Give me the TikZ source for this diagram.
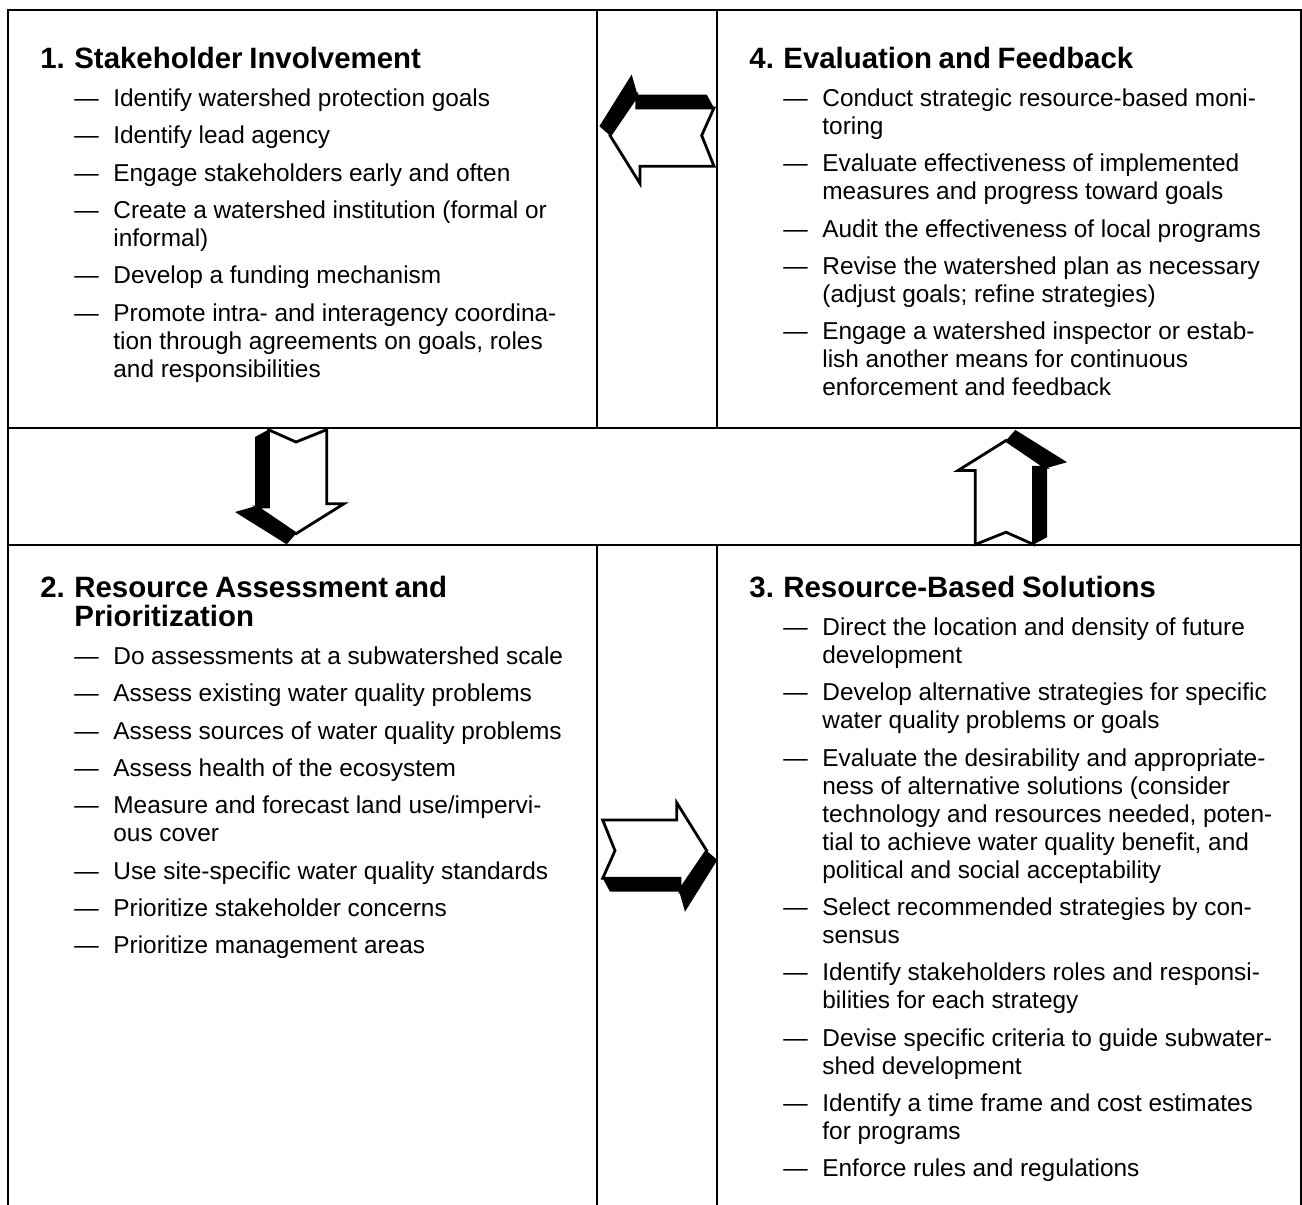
\documentclass[tikz,border=0pt]{standalone}
\usepackage{fontspec}
\setmainfont{Liberation Sans}
\usepackage{tikz}

\newcommand{\panelfmt}{\fontsize{12.2}{14}\selectfont\frenchspacing\raggedright\setlength{\parskip}{4.65pt}}
\newcommand{\hd}[2]{{\fontsize{14.7}{14.5}\selectfont\bfseries\hangindent=17pt\hangafter=1\makebox[17pt][l]{#1}#2\par}\vspace{0.6pt}\leftskip=17pt}
\newcommand{\itm}[1]{\par\hangindent=19.5pt\hangafter=1\makebox[19.5pt][l]{—}#1}

\begin{document}
\begin{tikzpicture}[x=0.5pt, y=-0.5pt,
    frame/.style={line width=0.7pt},
    panel/.style={anchor=base west, inner sep=0pt, text width=275pt, execute at begin node=\panelfmt},
    arrowface/.style={fill=white, draw=black, line width=1.4pt, line join=miter},
    arrowshade/.style={fill=black}]
  \useasboundingbox (0,0) rectangle (1302,1205);

  % Frame
  \draw[frame] (8,1205) -- (8,10) -- (1301,10) -- (1301,1205);
  \draw[frame] (8,428) -- (1301,428);
  \draw[frame] (8,545) -- (1301,545);
  \draw[frame] (597,10) -- (597,428) (717,10) -- (717,428);
  \draw[frame] (597,545) -- (597,1205) (717,545) -- (717,1205);

  % Block arrow macro
  \newcommand{\blockarrow}[3]{
    % #1, #2: centre, #3: rotation (0 = pointing right)
    \begin{scope}[shift={(#1,#2)}, rotate=#3]
      \fill[arrowshade] (-57.3,21.1) -- (-50,34.5) -- (19.3,34.5) -- (25,54.5)
        -- (57.3,2.8) -- (46.7,-6.5) -- (20,21.1) -- cycle;
      \draw[arrowface] (-57.3,-37.2) -- (16.7,-37.2) -- (16.7,-54.5) -- (46.7,-6.5)
        -- (20,32.8) -- (20,21.1) -- (-57.3,21.1) -- (-45,-6.5) -- cycle;
    \end{scope}
  }

  % Arrows between the steps
  \blockarrow{656.7}{129}{180}
  \blockarrow{289.5}{487}{-90}
  \blockarrow{1012.5}{487.2}{90}
  \blockarrow{660}{857.2}{0}

  % Step 1
  \node[panel] (involve) at (40,68) {\hd{1.}{Stakeholder Involvement}
    \itm{Identify watershed protection goals}
    \itm{Identify lead agency}
    \itm{Engage stakeholders early and often}
    \itm{Create a watershed institution (formal or\newline informal)}
    \itm{Develop a funding mechanism}
    \itm{Promote intra- and interagency coordina-\newline tion through agreements on goals, roles\newline and responsibilities}\par};

  % Step 4
  \node[panel] (feedback) at (749,68) {\hd{4.}{Evaluation and Feedback}
    \itm{Conduct strategic resource-based moni-\newline toring}
    \itm{Evaluate effectiveness of implemented\newline measures and progress toward goals}
    \itm{Audit the effectiveness of local programs}
    \itm{Revise the watershed plan as necessary\newline (adjust goals; refine strategies)}
    \itm{Engage a watershed inspector or estab-\newline lish another means for continuous\newline enforcement and feedback}\par};

  % Step 2
  \node[panel] (assess) at (40,597) {\hd{2.}{Resource Assessment and\newline Prioritization}
    \itm{Do assessments at a subwatershed scale}
    \itm{Assess existing water quality problems}
    \itm{Assess sources of water quality problems}
    \itm{Assess health of the ecosystem}
    \itm{Measure and forecast land use/impervi-\newline ous cover}
    \itm{Use site-specific water quality standards}
    \itm{Prioritize stakeholder concerns}
    \itm{Prioritize management areas}\par};

  % Step 3
  \node[panel] (solutions) at (749,597) {\hd{3.}{Resource-Based Solutions}
    \itm{Direct the location and density of future\newline development}
    \itm{Develop alternative strategies for specific\newline water quality problems or goals}
    \itm{Evaluate the desirability and appropriate-\newline ness of alternative solutions (consider\newline technology and resources needed, poten-\newline tial to achieve water quality benefit, and\newline political and social acceptability}
    \itm{Select recommended strategies by con-\newline sensus}
    \itm{Identify stakeholders roles and responsi-\newline bilities for each strategy}
    \itm{Devise specific criteria to guide subwater-\newline shed development}
    \itm{Identify a time frame and cost estimates\newline for programs}
    \itm{Enforce rules and regulations}\par};
\end{tikzpicture}
\end{document}
